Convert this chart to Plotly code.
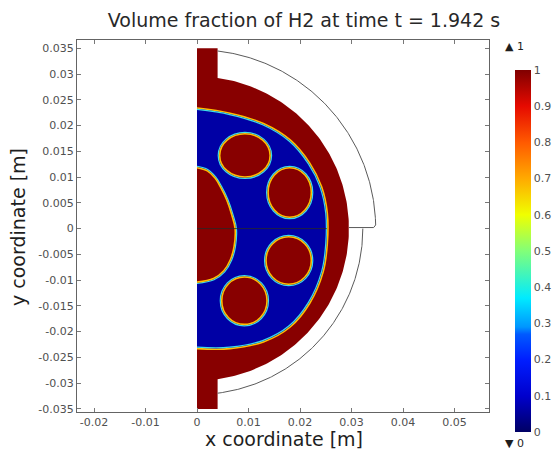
import numpy as np
import plotly.graph_objects as go

# ---------------- data ----------------
title_text = "Volume fraction of H2 at time t = 1.942 s"
x_title = "x coordinate [m]"
y_title = "y coordinate [m]"
x_ticks = [-0.02, -0.01, 0, 0.01, 0.02, 0.03, 0.04, 0.05]
x_ticklabels = ["-0.02", "-0.01", "0", "0.01", "0.02", "0.03", "0.04", "0.05"]
y_ticks = [-0.035, -0.03, -0.025, -0.02, -0.015, -0.01, -0.005, 0,
           0.005, 0.01, 0.015, 0.02, 0.025, 0.03, 0.035]
y_ticklabels = ["-0.035", "-0.03", "-0.025", "-0.02", "-0.015", "-0.01", "-0.005", "0",
                "0.005", "0.01", "0.015", "0.02", "0.025", "0.03", "0.035"]
cbar_ticks = [0, 0.1, 0.2, 0.3, 0.4, 0.5, 0.6, 0.7, 0.8, 0.9, 1]
cbar_labels = ["0", "0.1", "0.2", "0.3", "0.4", "0.5", "0.6", "0.7", "0.8", "0.9", "1"]

# geometry (m)
strip_width = 0.004          # vertical inlet/outlet strip
strip_end = 0.035            # strip reaches +-0.035
red_radius = 0.0295          # H2-filled outer annulus
upper_shell_radius = 0.0347  # thin outer boundary, upper half
lower_shell_radius = 0.0322  # thin outer boundary, lower half

# liquid (blue) region boundary, read as points (x, y)
liquid_x = [0.0, 0.0064, 0.0129, 0.0181, 0.0219, 0.0242, 0.0253, 0.0253,
            0.0245, 0.0219, 0.0181, 0.0129, 0.0064, 0.0]
liquid_y = [0.0234, 0.0224, 0.0204, 0.0172, 0.0127, 0.0081, 0.0030, -0.0030,
            -0.0084, -0.0145, -0.0191, -0.0220, -0.0233, -0.0233]

# large gas blob on the axis
blob_x = [0.0, 0.0020, 0.0035, 0.0046, 0.0058, 0.0068, 0.0074, 0.0072,
          0.0065, 0.0052, 0.0032, 0.0]
blob_y = [0.0118, 0.0112, 0.0098, 0.0080, 0.0055, 0.0025, 0.0, -0.0035,
          -0.0060, -0.0082, -0.0097, -0.0104]

# gas bubbles (centre, semi-axes)
bubble_cx = [0.0093, 0.0180, 0.0178, 0.0092]
bubble_cy = [0.0142, 0.0070, -0.0062, -0.0140]
bubble_rx = [0.0049, 0.0042, 0.0044, 0.0044]
bubble_ry = [0.0042, 0.0048, 0.0046, 0.0046]

# ---------------- styling ----------------
W, H = 558, 451
L, R, T, B = 77, 489, 40, 412   # plot-area pixel box
RED = "rgb(136,0,0)"
BLUE = "rgb(0,0,165)"
ORANGE = "rgb(255,190,0)"
CYAN = "rgb(60,220,230)"
FONT = "DejaVu Sans"
colorscale = [[0, "rgb(0,0,100)"], [0.1, "rgb(0,0,205)"], [0.2, "rgb(0,30,255)"],
              [0.27, "rgb(0,90,255)"], [0.29, "rgb(0,150,255)"], [0.37, "rgb(0,235,255)"],
              [0.5, "rgb(130,255,120)"], [0.6, "rgb(240,255,0)"], [0.7, "rgb(255,170,0)"],
              [0.8, "rgb(255,90,0)"], [0.9, "rgb(230,10,0)"], [1, "rgb(128,0,0)"]]


def px_x(p):
    return (p - L) / (R - L)


def px_y(p):
    return (B - p) / (B - T)


fig = go.Figure()

# red domain: strip + disc
y_join = np.sqrt(red_radius**2 - strip_width**2)
a0 = np.arctan2(y_join, strip_width)
ang = np.linspace(a0, -a0, 200)
rx = np.concatenate([[0, strip_width, strip_width], red_radius * np.cos(ang),
                     [strip_width, strip_width, 0]])
ry = np.concatenate([[strip_end, strip_end, y_join], red_radius * np.sin(ang),
                     [-y_join, -strip_end, -strip_end]])
fig.add_trace(go.Scatter(x=rx, y=ry, mode="lines", fill="toself", fillcolor=RED,
                         line=dict(width=0), hoverinfo="skip", showlegend=False))

# liquid region
fig.add_trace(go.Scatter(x=liquid_x, y=liquid_y, mode="lines", fill="toself", fillcolor=BLUE,
                         line=dict(color=ORANGE, width=1.6, shape="spline"),
                         hoverinfo="skip", showlegend=False))
lx = np.array(liquid_x) * 0.988
ly = np.array(liquid_y) * 0.988
fig.add_trace(go.Scatter(x=lx, y=ly, mode="lines",
                         line=dict(color=CYAN, width=1.2, shape="spline"),
                         hoverinfo="skip", showlegend=False))

# blob
bx = np.array(blob_x) * 1.035
by = np.array(blob_y) * 1.025
fig.add_trace(go.Scatter(x=bx, y=by, mode="lines",
                         line=dict(color=CYAN, width=1.2, shape="spline"),
                         hoverinfo="skip", showlegend=False))
fig.add_trace(go.Scatter(x=blob_x, y=blob_y, mode="lines", fill="toself", fillcolor=RED,
                         line=dict(color=ORANGE, width=1.6, shape="spline"),
                         hoverinfo="skip", showlegend=False))

# symmetry line y = 0 inside the liquid domain
fig.add_trace(go.Scatter(x=[0, 0.0252], y=[0, 0], mode="lines",
                         line=dict(color="rgb(40,40,40)", width=0.8),
                         hoverinfo="skip", showlegend=False))

# thin outer shell boundaries
a_up0 = np.arcsin(0.0007 / upper_shell_radius)
a_up1 = np.arccos(strip_width / upper_shell_radius)
au = np.linspace(a_up1, a_up0, 200)
ux = np.concatenate([upper_shell_radius * np.cos(au), [upper_shell_radius - 0.0004, red_radius]])
uy = np.concatenate([upper_shell_radius * np.sin(au), [0.0002, 0.0002]])
fig.add_trace(go.Scatter(x=ux, y=uy, mode="lines", line=dict(color="rgb(90,90,90)", width=1),
                         hoverinfo="skip", showlegend=False))
a_lo1 = -np.arccos(strip_width / lower_shell_radius)
al = np.linspace(0, a_lo1, 200)
fig.add_trace(go.Scatter(x=lower_shell_radius * np.cos(al), y=lower_shell_radius * np.sin(al),
                         mode="lines", line=dict(color="rgb(90,90,90)", width=1),
                         hoverinfo="skip", showlegend=False))

# colorbar carrier (off-range point)
fig.add_trace(go.Scatter(x=[-1], y=[-1], mode="markers",
                         marker=dict(color=[0.5], cmin=0, cmax=1, colorscale=colorscale,
                                     showscale=True,
                                     colorbar=dict(x=px_x(515), xanchor="left", xpad=0,
                                                   y=px_y(70), yanchor="top", ypad=0,
                                                   lenmode="pixels", len=362,
                                                   thicknessmode="pixels", thickness=16,
                                                   outlinewidth=0, ticks="",
                                                   tickvals=cbar_ticks, ticktext=cbar_labels,
                                                   tickfont=dict(family=FONT, size=11,
                                                                 color="rgb(80,80,80)"))),
                         hoverinfo="skip", showlegend=False))

shapes = []
for cx, cy, ax_, ay_ in zip(bubble_cx, bubble_cy, bubble_rx, bubble_ry):
    d = 0.00028
    shapes.append(dict(type="circle", xref="x", yref="y", x0=cx - ax_ - d, x1=cx + ax_ + d,
                       y0=cy - ay_ - d, y1=cy + ay_ + d, line=dict(color=CYAN, width=1.2),
                       layer="above"))
    shapes.append(dict(type="circle", xref="x", yref="y", x0=cx - ax_, x1=cx + ax_,
                       y0=cy - ay_, y1=cy + ay_, fillcolor=RED,
                       line=dict(color=ORANGE, width=1.6), layer="above"))

axis_common = dict(showgrid=False, zeroline=False, showline=True, mirror="ticks",
                   automargin=False,
                   linecolor="rgb(100,100,100)", linewidth=1, ticks="inside", ticklen=4,
                   tickcolor="rgb(120,120,120)",
                   tickfont=dict(family=FONT, size=11, color="rgb(80,80,80)"))

fig.update_layout(
    width=W, height=H,
    margin=dict(l=L, r=W - R, t=T, b=H - B, autoexpand=False),
    paper_bgcolor="white", plot_bgcolor="white",
    title=dict(text=title_text, x=304 / W, xref="container", xanchor="center",
               y=1 - 20 / H, yref="container", yanchor="middle",
               font=dict(family=FONT, size=19, color="rgb(40,40,40)")),
    xaxis=dict(range=[-0.0233, 0.0567], tickvals=x_ticks, ticktext=x_ticklabels,
               **axis_common),
    yaxis=dict(range=[-0.0356, 0.0366], tickvals=y_ticks, ticktext=y_ticklabels,
               **axis_common),
    shapes=shapes,
    annotations=[
        dict(text=x_title, xref="paper", yref="paper", x=px_x(284), y=px_y(439),
             xanchor="center", yanchor="middle", showarrow=False,
             font=dict(family=FONT, size=19, color="rgb(30,30,30)")),
        dict(text=y_title, xref="paper", yref="paper", x=px_x(18), y=px_y(227),
             xanchor="center", yanchor="middle", showarrow=False, textangle=-90,
             font=dict(family=FONT, size=19, color="rgb(30,30,30)")),
        dict(text="▲ 1", xref="paper", yref="paper", x=px_x(503), y=px_y(47),
             xanchor="left", yanchor="middle", showarrow=False,
             font=dict(family=FONT, size=11, color="rgb(30,30,30)")),
        dict(text="▼ 0", xref="paper", yref="paper", x=px_x(503), y=px_y(443),
             xanchor="left", yanchor="middle", showarrow=False,
             font=dict(family=FONT, size=11, color="rgb(30,30,30)")),
    ],
)

fig.write_html("out.html", config={"displayModeBar": False},
               post_script="document.body.style.margin='0';document.body.style.overflow='hidden';")
